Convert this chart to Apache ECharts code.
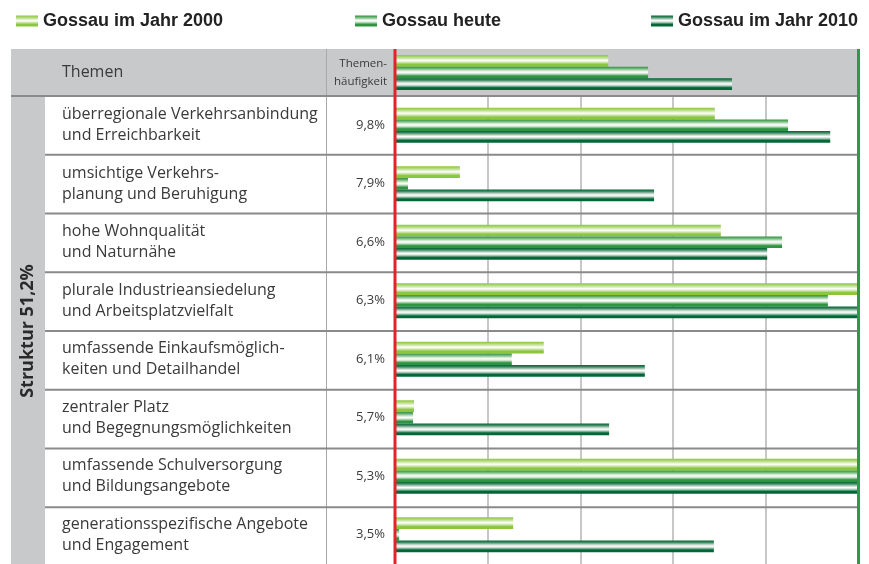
<!DOCTYPE html>
<html>
<head>
<meta charset="utf-8">
<script src="https://cdn.jsdelivr.net/npm/echarts@6/dist/echarts.min.js"></script>
<style>
  html, body { margin: 0; padding: 0; background: #fff; }
  #chart { width: 869px; height: 564px; }
</style>
</head>
<body>
<div id="chart"></div>
<script>
// Data (bar length in % of the full scale)
const seriesNames = ['Gossau im Jahr 2000', 'Gossau heute', 'Gossau im Jahr 2010'];
const themes = [
  'überregionale Verkehrsanbindung\nund Erreichbarkeit',
  'umsichtige Verkehrs-\nplanung und Beruhigung',
  'hohe Wohnqualität\nund Naturnähe',
  'plurale Industrieansiedelung\nund Arbeitsplatzvielfalt',
  'umfassende Einkaufsmöglich-\nkeiten und Detailhandel',
  'zentraler Platz\nund Begegnungsmöglichkeiten',
  'umfassende Schulversorgung\nund Bildungsangebote',
  'generationsspezifische Angebote\nund Engagement'
];
const shares = ['9,8%', '7,9%', '6,6%', '6,3%', '6,1%', '5,7%', '5,3%', '3,5%'];
const overall = [46.0, 54.6, 72.7];          // "Themen" row: 2000, heute, 2010
const y2000 = [69.0, 14.0, 70.3, 100, 32.1, 4.1, 100, 25.5];
const today = [84.8, 2.8, 83.5, 93.4, 25.2, 3.9, 100, 0.9];
const y2010 = [93.9, 55.9, 80.3, 100, 53.9, 46.2, 100, 68.8];
const groupLabel = 'Struktur 51,2%';

const font = 'Open Sans';
const textColor = '#3a3a3a';

// layout
const gridLeft = 395, gridRight = 10.5;
const headTop = 49, headH = 47;
const rowsTop = 96, rowH = 58.75;

// cylinder-like shading across the bar thickness
const grad = (edge, mid, light) => new echarts.graphic.LinearGradient(0, 0, 0, 1, [
  { offset: 0, color: edge },
  { offset: 0.15, color: mid },
  { offset: 0.35, color: light },
  { offset: 0.47, color: '#ffffff' },
  { offset: 0.6, color: light },
  { offset: 0.8, color: edge },
  { offset: 1, color: edge }
]);
const colors = [
  grad('#8cc63f', '#a9d46c', '#dbedc2'),
  grad('#2f9440', '#62b06a', '#cfe6d1'),
  grad('#006837', '#3b8760', '#c6d8ce')
];

const chart = echarts.init(document.getElementById('chart'));

const barSeries = (name, i, data, gridIdx) => ({
  name: name,
  type: 'bar',
  xAxisIndex: gridIdx,
  yAxisIndex: gridIdx * 2,
  data: data,
  barWidth: 11.7,
  barGap: '0%',
  itemStyle: { color: colors[i] },
  silent: true
});

const legendBase = {
  top: 7,
  itemWidth: 22,
  itemHeight: 11,
  icon: 'rect',
  selectedMode: false,
  textStyle: { fontFamily: 'Liberation Sans', fontWeight: 'bold', fontSize: 18, color: '#222' }
};

const catAxis = (grid, data, label) => ({
  type: 'category', gridIndex: grid, position: 'left', offset: 0, inverse: true, data: data,
  axisLine: { show: false }, axisTick: { show: false },
  axisLabel: Object.assign({ interval: 0, fontFamily: font, color: textColor }, label)
});

chart.setOption({
  animation: false,
  legend: [
    Object.assign({}, legendBase, { left: 11, data: [seriesNames[0]] }),
    Object.assign({}, legendBase, { left: 350, data: [seriesNames[1]] }),
    Object.assign({}, legendBase, { left: 646, data: [seriesNames[2]] })
  ],
  grid: [
    { left: gridLeft, right: gridRight, top: headTop, height: headH },
    { left: gridLeft, right: gridRight, top: rowsTop, height: rowH * themes.length }
  ],
  xAxis: [0, 1].map(g => ({
    type: 'value',
    gridIndex: g,
    min: 0,
    max: 100,
    interval: 20,
    axisLine: { show: false },
    axisTick: { show: false },
    axisLabel: { show: false },
    splitLine: { show: g === 1, lineStyle: { color: '#b5b5b5', width: 1.5 } }
  })),
  yAxis: [
    catAxis(0, ['Themen'], { align: 'left', margin: gridLeft - 62, fontSize: 16 }),
    catAxis(0, ['Themen-\nhäufigkeit'], { align: 'right', margin: 8, fontSize: 11.5, lineHeight: 18 }),
    catAxis(1, themes, { align: 'left', margin: gridLeft - 62, fontSize: 16, lineHeight: 21, padding: [7, 0, 0, 0] }),
    catAxis(1, shares, { align: 'right', margin: 10, fontSize: 13 })
  ],
  series: [
    barSeries(seriesNames[0], 0, [overall[0]], 0),
    barSeries(seriesNames[1], 1, [overall[1]], 0),
    barSeries(seriesNames[2], 2, [overall[2]], 0),
    barSeries(seriesNames[0], 0, y2000, 1),
    barSeries(seriesNames[1], 1, today, 1),
    barSeries(seriesNames[2], 2, y2010, 1)
  ]
});

// table decoration around the plot
const x0 = chart.convertToPixel({ xAxisIndex: 1 }, 0);
const x100 = chart.convertToPixel({ xAxisIndex: 1 }, 100);
const bottom = rowsTop + rowH * themes.length;
const gray = '#c8c9cb';

const elements = [
  { type: 'rect', z: -10, shape: { x: 11, y: headTop, width: x100 - 11, height: headH }, style: { fill: gray } },
  { type: 'rect', z: -10, shape: { x: 11, y: rowsTop, width: 34, height: bottom - rowsTop }, style: { fill: gray } },
  { type: 'line', z: 50, shape: { x1: 326.5, y1: headTop, x2: 326.5, y2: bottom }, style: { stroke: '#a8a8a8', lineWidth: 1 } },
  { type: 'line', z: 50, shape: { x1: 11, y1: rowsTop, x2: x100, y2: rowsTop }, style: { stroke: '#8a8a8a', lineWidth: 2 } }
];
themes.forEach((t, i) => {
  if (i === 0) return;
  const y = rowsTop + rowH * i;
  elements.push({ type: 'line', z: 50, shape: { x1: 45, y1: y, x2: x100, y2: y }, style: { stroke: '#8a8a8a', lineWidth: 2 } });
});
elements.push(
  { type: 'line', z: 100, shape: { x1: x0, y1: headTop, x2: x0, y2: bottom }, style: { stroke: '#e52229', lineWidth: 3 } },
  { type: 'line', z: 100, shape: { x1: x100, y1: headTop, x2: x100, y2: bottom }, style: { stroke: '#2e9a45', lineWidth: 3 } },
  {
    type: 'text', z: 100, x: 28, y: (rowsTop + bottom) / 2, rotation: Math.PI / 2,
    style: { text: groupLabel, fontFamily: font, fontWeight: 'bold', fontSize: 18, fill: '#2a2a2a', align: 'center', verticalAlign: 'middle' }
  }
);

chart.setOption({ graphic: { elements: elements } });
</script>
</body>
</html>
